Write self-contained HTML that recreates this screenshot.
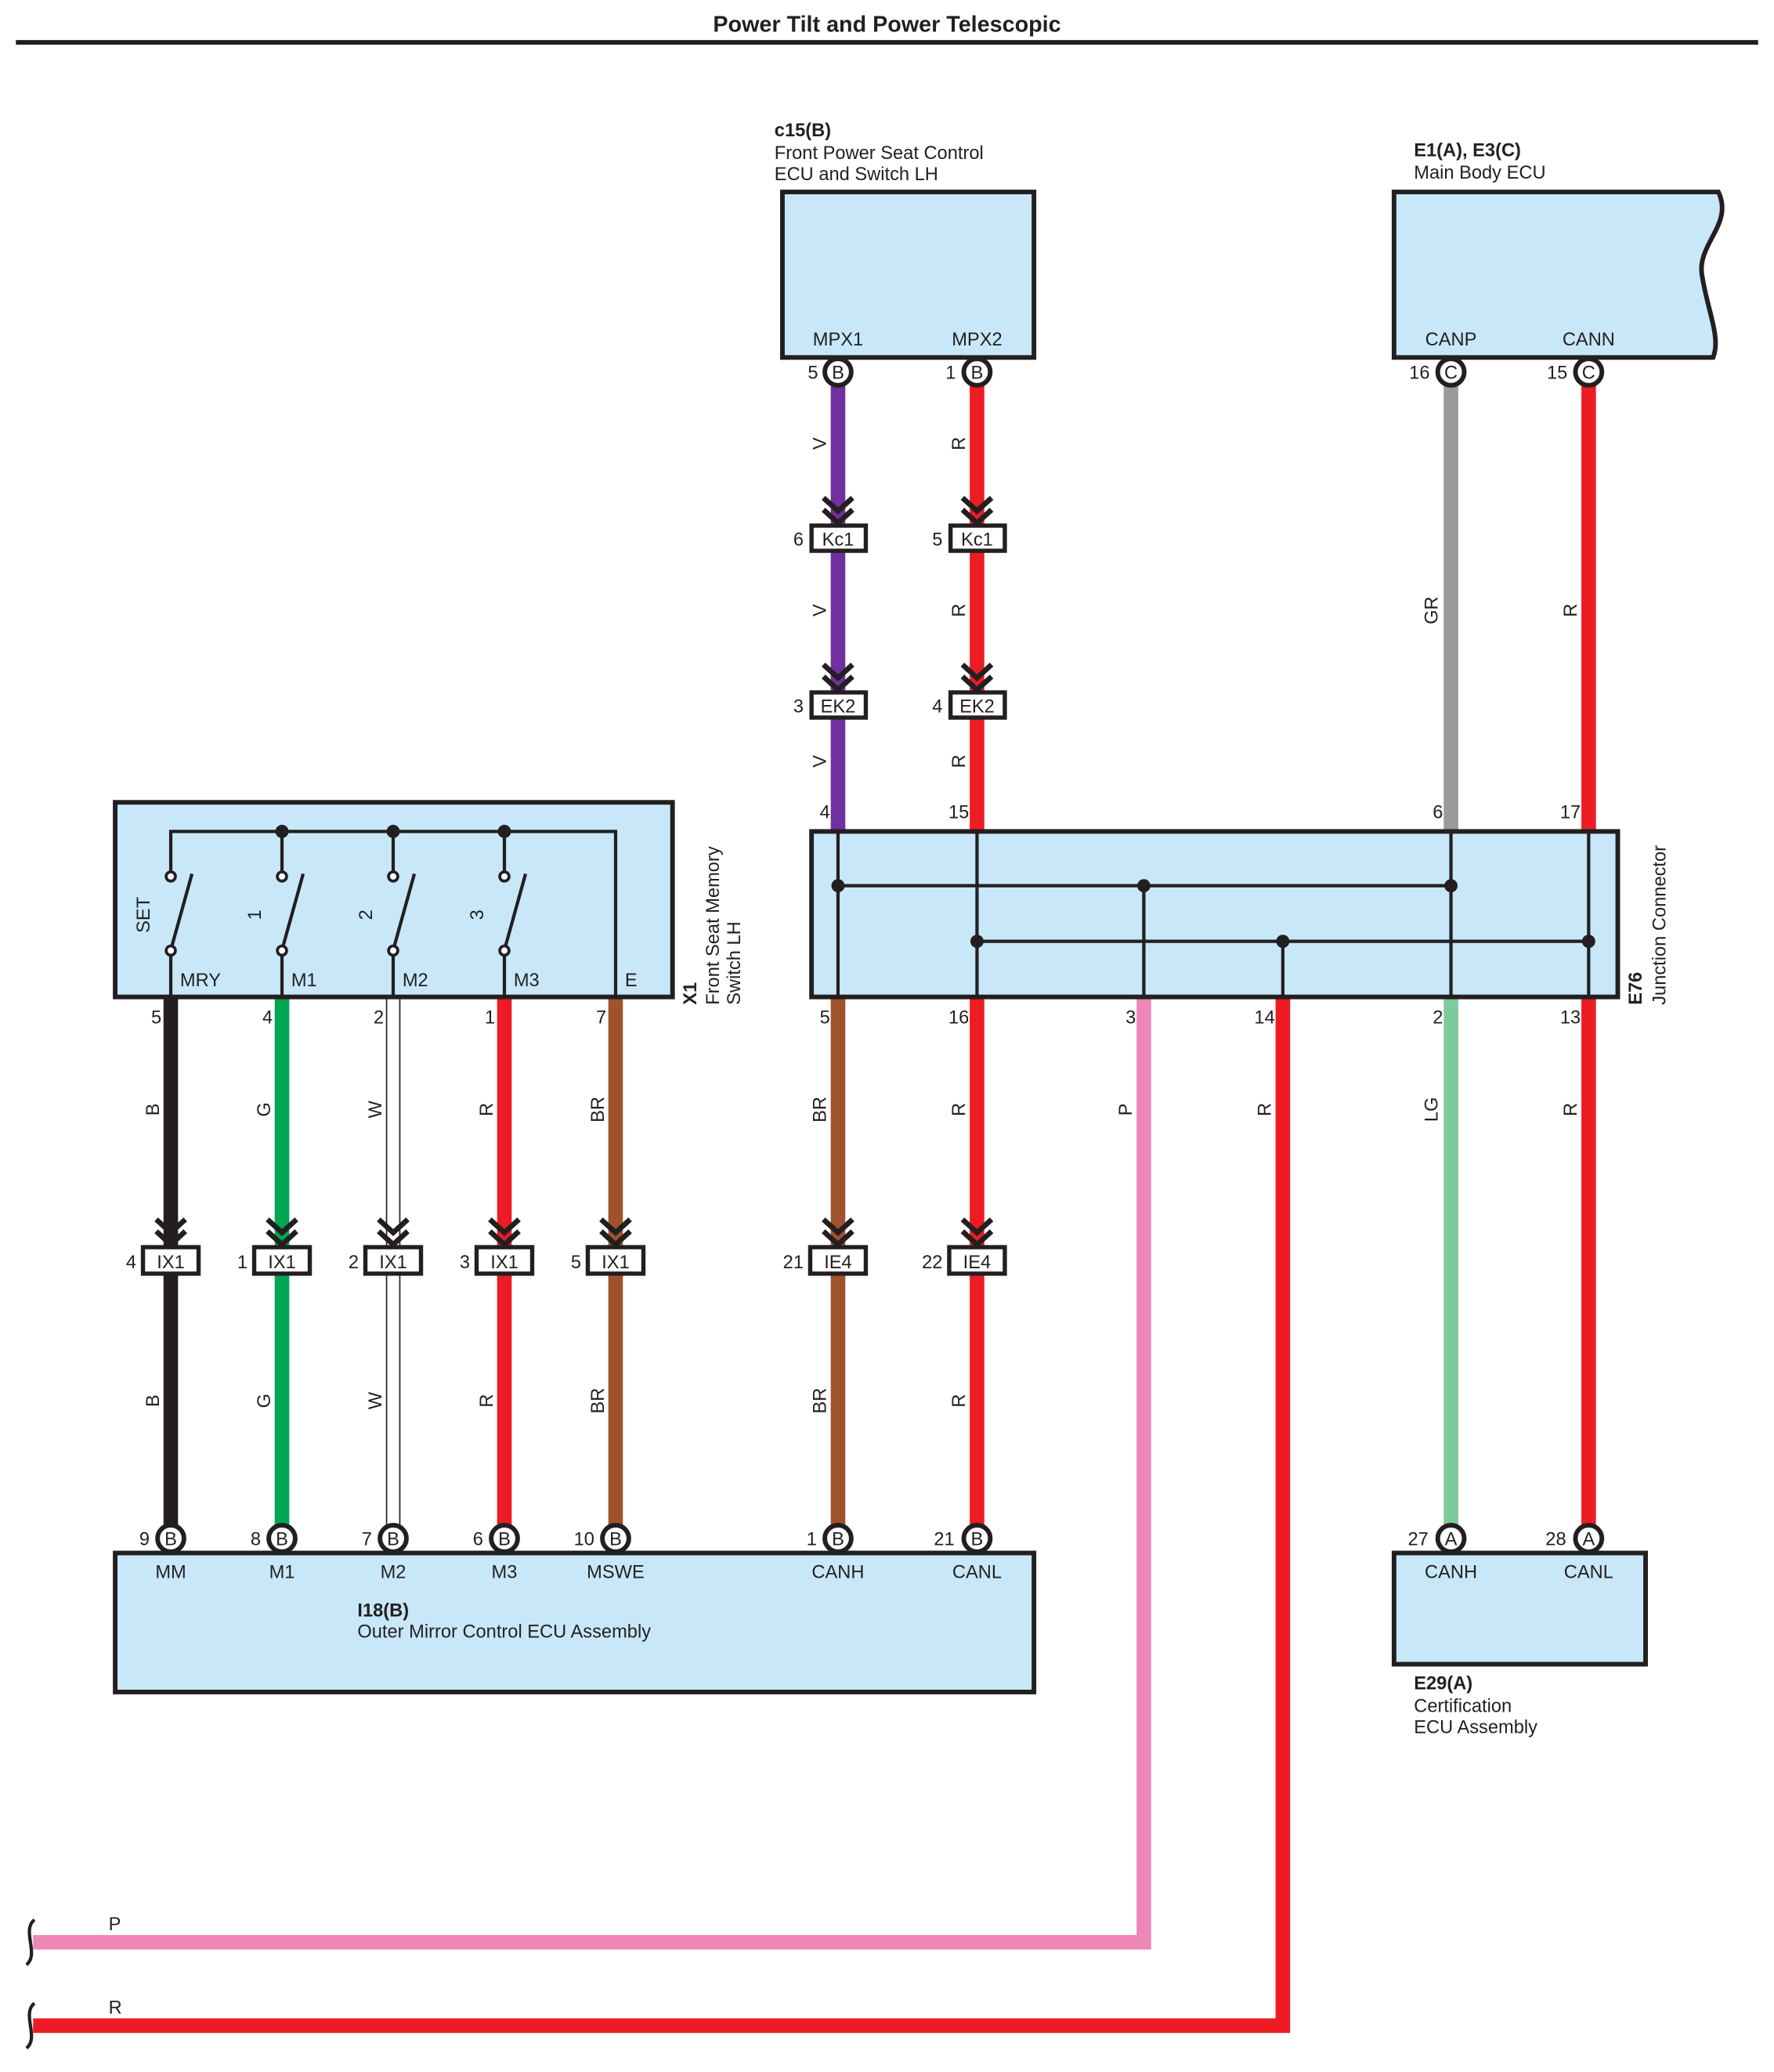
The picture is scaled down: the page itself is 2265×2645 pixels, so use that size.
<!DOCTYPE html>
<html><head><meta charset="utf-8"><style>
html,body{margin:0;padding:0;background:#fff}
svg{display:block}
text{font-family:"Liberation Sans",Arial,sans-serif;fill:#231f20}
</style></head><body>
<svg width="2265" height="2645" viewBox="0 0 1340 1565" preserveAspectRatio="none" xmlns="http://www.w3.org/2000/svg">
<defs>
<path id="ch" d="M-11,-20 L0,-10 L11,-20 M-11,-11 L0,-1 L11,-11" fill="none" stroke="#231f20" stroke-width="4"/>
</defs>
<text x="670" y="24" font-size="17" font-weight="bold" text-anchor="middle">Power Tilt and Power Telescopic</text>
<line x1="12" y1="32" x2="1328" y2="32" stroke="#231f20" stroke-width="3.5"/>

<g stroke-width="11" fill="none">
<line x1="633" y1="290" x2="633" y2="628" stroke="#7030a0"/>
<line x1="738" y1="290" x2="738" y2="628" stroke="#ed1c24"/>
<line x1="1096" y1="290" x2="1096" y2="628" stroke="#999a9c"/>
<line x1="1200" y1="290" x2="1200" y2="628" stroke="#ed1c24"/>
<line x1="129" y1="753" x2="129" y2="1153" stroke="#231f20"/>
<line x1="213" y1="753" x2="213" y2="1153" stroke="#00a651"/>
<line x1="381" y1="753" x2="381" y2="1153" stroke="#ed1c24"/>
<line x1="465" y1="753" x2="465" y2="1153" stroke="#a0522d"/>
<line x1="633" y1="753" x2="633" y2="1153" stroke="#a0522d"/>
<line x1="738" y1="753" x2="738" y2="1153" stroke="#ed1c24"/>
<line x1="1096" y1="753" x2="1096" y2="1153" stroke="#80c99a"/>
<line x1="1200" y1="753" x2="1200" y2="1153" stroke="#ed1c24"/>
<polyline points="864,753 864,1467 25,1467" stroke="#ef86b8"/>
<polyline points="969,753 969,1530 25,1530" stroke="#ed1c24"/>
</g>
<g stroke="#231f20" stroke-width="1" fill="#fff">
<rect x="292" y="753" width="10" height="400"/>
</g>
<g stroke="#231f20" stroke-width="2.5" fill="none">
<path d="M26,1450 C16,1458 30,1476 20,1484"/>
<path d="M26,1513 C16,1521 30,1539 20,1547"/>
</g>
<text x="82" y="1458" font-size="14">P</text>
<text x="82" y="1521" font-size="14">R</text>

<rect x="591" y="145" width="190" height="125" fill="#c8e8fa" stroke="#231f20" stroke-width="3.5"/>
<text x="585" y="103" font-size="14" font-weight="bold">c15(B)</text>
<text x="585" y="120" font-size="14">Front Power Seat Control</text>
<text x="585" y="136" font-size="14">ECU and Switch LH</text>
<text x="633" y="261" font-size="14" text-anchor="middle">MPX1</text>
<text x="738" y="261" font-size="14" text-anchor="middle">MPX2</text>

<path d="M1053,145 H1298 C1310,170 1280,185 1286,210 C1290,235 1300,255 1294,270 H1053 Z" fill="#c8e8fa" stroke="#231f20" stroke-width="3.5"/>
<text x="1068" y="118" font-size="14" font-weight="bold">E1(A), E3(C)</text>
<text x="1068" y="135" font-size="14">Main Body ECU</text>
<text x="1096" y="261" font-size="14" text-anchor="middle">CANP</text>
<text x="1200" y="261" font-size="14" text-anchor="middle">CANN</text>

<g stroke="#231f20" stroke-width="3.5" fill="#fff">
<circle cx="633" cy="281" r="10"/><circle cx="738" cy="281" r="10"/>
<circle cx="1096" cy="281" r="10"/><circle cx="1200" cy="281" r="10"/>
</g>
<g font-size="14" text-anchor="middle">
<text x="633" y="286">B</text><text x="738" y="286">B</text>
<text x="1096" y="286">C</text><text x="1200" y="286">C</text>
</g>
<g font-size="14" text-anchor="end">
<text x="618" y="286">5</text><text x="722" y="286">1</text>
<text x="1080" y="286">16</text><text x="1184" y="286">15</text>
</g>

<g>
<use href="#ch" x="633" y="396"/><use href="#ch" x="738" y="396"/>
<use href="#ch" x="633" y="522"/><use href="#ch" x="738" y="522"/>
<use href="#ch" x="129" y="941"/><use href="#ch" x="213" y="941"/><use href="#ch" x="297" y="941"/>
<use href="#ch" x="381" y="941"/><use href="#ch" x="465" y="941"/><use href="#ch" x="633" y="941"/><use href="#ch" x="738" y="941"/>
</g>
<g stroke="#231f20" stroke-width="3.2" fill="#fff">
<rect x="613" y="397" width="41" height="19"/><rect x="718" y="397" width="41" height="19"/>
<rect x="613" y="523" width="41" height="19"/><rect x="718" y="523" width="41" height="19"/>
<rect x="108" y="942" width="42" height="20"/><rect x="192" y="942" width="42" height="20"/>
<rect x="276" y="942" width="42" height="20"/><rect x="360" y="942" width="42" height="20"/>
<rect x="444" y="942" width="42" height="20"/><rect x="612" y="942" width="42" height="20"/>
<rect x="717" y="942" width="42" height="20"/>
</g>
<g font-size="14" text-anchor="middle">
<text x="633" y="412">Kc1</text><text x="738" y="412">Kc1</text>
<text x="633" y="538">EK2</text><text x="738" y="538">EK2</text>
<text x="129" y="958">IX1</text><text x="213" y="958">IX1</text><text x="297" y="958">IX1</text>
<text x="381" y="958">IX1</text><text x="465" y="958">IX1</text>
<text x="633" y="958">IE4</text><text x="738" y="958">IE4</text>
</g>
<g font-size="14" text-anchor="end">
<text x="607" y="412">6</text><text x="712" y="412">5</text>
<text x="607" y="538">3</text><text x="712" y="538">4</text>
<text x="103" y="958">4</text><text x="187" y="958">1</text><text x="271" y="958">2</text>
<text x="355" y="958">3</text><text x="439" y="958">5</text>
<text x="607" y="958">21</text><text x="712" y="958">22</text>
</g>

<g font-size="14" text-anchor="middle">
<text transform="translate(624,335) rotate(-90)">V</text>
<text transform="translate(729,335) rotate(-90)">R</text>
<text transform="translate(624,461) rotate(-90)">V</text>
<text transform="translate(729,461) rotate(-90)">R</text>
<text transform="translate(624,575) rotate(-90)">V</text>
<text transform="translate(729,575) rotate(-90)">R</text>
<text transform="translate(1086,461) rotate(-90)">GR</text>
<text transform="translate(1191,461) rotate(-90)">R</text>
<text transform="translate(120,838) rotate(-90)">B</text>
<text transform="translate(204,838) rotate(-90)">G</text>
<text transform="translate(288,838) rotate(-90)">W</text>
<text transform="translate(372,838) rotate(-90)">R</text>
<text transform="translate(456,838) rotate(-90)">BR</text>
<text transform="translate(624,838) rotate(-90)">BR</text>
<text transform="translate(729,838) rotate(-90)">R</text>
<text transform="translate(855,838) rotate(-90)">P</text>
<text transform="translate(960,838) rotate(-90)">R</text>
<text transform="translate(1086,838) rotate(-90)">LG</text>
<text transform="translate(1191,838) rotate(-90)">R</text>
<text transform="translate(120,1058) rotate(-90)">B</text>
<text transform="translate(204,1058) rotate(-90)">G</text>
<text transform="translate(288,1058) rotate(-90)">W</text>
<text transform="translate(372,1058) rotate(-90)">R</text>
<text transform="translate(456,1058) rotate(-90)">BR</text>
<text transform="translate(624,1058) rotate(-90)">BR</text>
<text transform="translate(729,1058) rotate(-90)">R</text>
</g>

<rect x="613" y="628" width="609" height="125" fill="#c8e8fa" stroke="#231f20" stroke-width="3.5"/>
<g stroke="#231f20" stroke-width="2.5" fill="none">
<line x1="633" y1="628" x2="633" y2="753"/>
<line x1="738" y1="628" x2="738" y2="753"/>
<line x1="864" y1="669" x2="864" y2="753"/>
<line x1="969" y1="711" x2="969" y2="753"/>
<line x1="1096" y1="628" x2="1096" y2="753"/>
<line x1="1200" y1="628" x2="1200" y2="753"/>
<line x1="633" y1="669" x2="1096" y2="669"/>
<line x1="738" y1="711" x2="1200" y2="711"/>
</g>
<g fill="#231f20">
<circle cx="633" cy="669" r="5"/><circle cx="864" cy="669" r="5"/><circle cx="1096" cy="669" r="5"/>
<circle cx="738" cy="711" r="5"/><circle cx="969" cy="711" r="5"/><circle cx="1200" cy="711" r="5"/>
</g>
<g font-size="14" text-anchor="end">
<text x="627" y="618">4</text><text x="732" y="618">15</text><text x="1090" y="618">6</text><text x="1194" y="618">17</text>
<text x="627" y="773">5</text><text x="732" y="773">16</text><text x="858" y="773">3</text>
<text x="963" y="773">14</text><text x="1090" y="773">2</text><text x="1194" y="773">13</text>
</g>
<text transform="translate(1240,759) rotate(-90)" font-size="14" font-weight="bold">E76</text>
<text transform="translate(1258,759) rotate(-90)" font-size="14">Junction Connector</text>

<rect x="87" y="606" width="421" height="147" fill="#c8e8fa" stroke="#231f20" stroke-width="3.5"/>
<g stroke="#231f20" stroke-width="2.5" fill="none">
<polyline points="129,662 129,628 465,628 465,753"/>
<line x1="213" y1="628" x2="213" y2="662"/>
<line x1="297" y1="628" x2="297" y2="662"/>
<line x1="381" y1="628" x2="381" y2="662"/>
<line x1="129" y1="718" x2="129" y2="753"/>
<line x1="213" y1="718" x2="213" y2="753"/>
<line x1="297" y1="718" x2="297" y2="753"/>
<line x1="381" y1="718" x2="381" y2="753"/>
<line x1="130" y1="714" x2="145" y2="660"/>
<line x1="214" y1="714" x2="229" y2="660"/>
<line x1="298" y1="714" x2="313" y2="660"/>
<line x1="382" y1="714" x2="397" y2="660"/>
</g>
<g stroke="#231f20" stroke-width="2.2" fill="#fff">
<circle cx="129" cy="662" r="3.5"/><circle cx="213" cy="662" r="3.5"/><circle cx="297" cy="662" r="3.5"/><circle cx="381" cy="662" r="3.5"/>
<circle cx="129" cy="718" r="3.5"/><circle cx="213" cy="718" r="3.5"/><circle cx="297" cy="718" r="3.5"/><circle cx="381" cy="718" r="3.5"/>
</g>
<g fill="#231f20"><circle cx="213" cy="628" r="5"/><circle cx="297" cy="628" r="5"/><circle cx="381" cy="628" r="5"/></g>
<g font-size="14" text-anchor="middle">
<text transform="translate(113,691) rotate(-90)">SET</text>
<text transform="translate(197,691) rotate(-90)">1</text>
<text transform="translate(281,691) rotate(-90)">2</text>
<text transform="translate(365,691) rotate(-90)">3</text>
</g>
<g font-size="14">
<text x="136" y="745">MRY</text><text x="220" y="745">M1</text><text x="304" y="745">M2</text>
<text x="388" y="745">M3</text><text x="472" y="745">E</text>
</g>
<g font-size="14" text-anchor="end">
<text x="122" y="773">5</text><text x="206" y="773">4</text><text x="290" y="773">2</text>
<text x="374" y="773">1</text><text x="458" y="773">7</text>
</g>
<text transform="translate(526,759) rotate(-90)" font-size="14" font-weight="bold">X1</text>
<text transform="translate(543,759) rotate(-90)" font-size="14">Front Seat Memory</text>
<text transform="translate(559,759) rotate(-90)" font-size="14">Switch LH</text>

<rect x="87" y="1173" width="694" height="105" fill="#c8e8fa" stroke="#231f20" stroke-width="3.5"/>
<text x="270" y="1221" font-size="14" font-weight="bold">I18(B)</text>
<text x="270" y="1237" font-size="14">Outer Mirror Control ECU Assembly</text>
<g font-size="14" text-anchor="middle">
<text x="129" y="1192">MM</text><text x="213" y="1192">M1</text><text x="297" y="1192">M2</text>
<text x="381" y="1192">M3</text><text x="465" y="1192">MSWE</text><text x="633" y="1192">CANH</text><text x="738" y="1192">CANL</text>
</g>
<rect x="1053" y="1173" width="190" height="84" fill="#c8e8fa" stroke="#231f20" stroke-width="3.5"/>
<text x="1096" y="1192" font-size="14" text-anchor="middle">CANH</text>
<text x="1200" y="1192" font-size="14" text-anchor="middle">CANL</text>
<text x="1068" y="1276" font-size="14" font-weight="bold">E29(A)</text>
<text x="1068" y="1293" font-size="14">Certification</text>
<text x="1068" y="1309" font-size="14">ECU Assembly</text>

<g stroke="#231f20" stroke-width="3.5" fill="#fff">
<circle cx="129" cy="1162" r="10"/><circle cx="213" cy="1162" r="10"/><circle cx="297" cy="1162" r="10"/>
<circle cx="381" cy="1162" r="10"/><circle cx="465" cy="1162" r="10"/><circle cx="633" cy="1162" r="10"/>
<circle cx="738" cy="1162" r="10"/><circle cx="1096" cy="1162" r="10"/><circle cx="1200" cy="1162" r="10"/>
</g>
<g font-size="14" text-anchor="middle">
<text x="129" y="1167">B</text><text x="213" y="1167">B</text><text x="297" y="1167">B</text>
<text x="381" y="1167">B</text><text x="465" y="1167">B</text><text x="633" y="1167">B</text>
<text x="738" y="1167">B</text><text x="1096" y="1167">A</text><text x="1200" y="1167">A</text>
</g>
<g font-size="14" text-anchor="end">
<text x="113" y="1167">9</text><text x="197" y="1167">8</text><text x="281" y="1167">7</text>
<text x="365" y="1167">6</text><text x="449" y="1167">10</text><text x="617" y="1167">1</text>
<text x="721" y="1167">21</text><text x="1079" y="1167">27</text><text x="1183" y="1167">28</text>
</g>
</svg>
</body></html>
